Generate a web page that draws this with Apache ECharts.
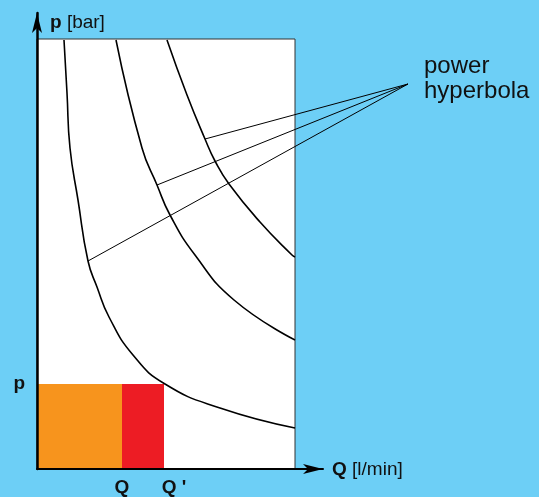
<!DOCTYPE html>
<html>
<head>
<meta charset="utf-8">
<script src="https://cdn.jsdelivr.net/npm/echarts@6/dist/echarts.min.js"></script>
<style>
  html, body { margin: 0; padding: 0; background: #6dcff6; }
  #chart { width: 539px; height: 497px; }
</style>
</head>
<body>
<div id="chart"></div>
<script>
// picture units: Q to the right, p upwards (1 unit ~ 1 px)
var curveLow = [[27, 429], [30, 376], [33, 321], [41, 269], [51, 208], [60, 182], [72, 152], [96, 114], [128, 85], [183, 61], [258, 41]];
var curveMid = [[79, 429], [105, 321], [120, 284], [133, 254], [158, 214], [197, 169], [258, 129]];
var curveHigh = [[130, 429], [150, 374], [168, 330], [178, 308], [192, 285], [223, 247], [255, 214], [258, 212]];

var plotBox = [[0, 0], [258, 430]];
var workQ = 85, workQ2 = 127, workP = 85;

var labelPoint = [371, 385];
var leaderTargets = [[168, 330], [120, 284], [51, 208]];

var xTicks = [workQ, workQ2];
var xTickNames = ['Q', "{s|Q '}"];
var yTicks = [workP];
var yTickNames = ['p'];

var font = "'Liberation Sans', Arial, sans-serif";

var chart = echarts.init(document.getElementById('chart'));

function curve(data) {
  return {
    type: 'line',
    data: data,
    smooth: 0.5,
    symbol: 'none',
    z: 3,
    lineStyle: { color: '#000', width: 1.6 }
  };
}

chart.setOption({
  backgroundColor: '#6dcff6',
  animation: false,
  title: [
    {
      text: '{b|p} [bar]',
      left: 50, top: 13, padding: 0,
      textStyle: {
        fontFamily: font, fontSize: 19, fontWeight: 'normal', color: '#111',
        rich: { b: { fontFamily: font, fontSize: 19, fontWeight: 'bold', color: '#111' } }
      }
    },
    {
      text: '{b|Q} [l/min]',
      left: 332, top: 460, padding: 0,
      textStyle: {
        fontFamily: font, fontSize: 19, fontWeight: 'normal', color: '#111',
        rich: { b: { fontFamily: font, fontSize: 19, fontWeight: 'bold', color: '#111' } }
      }
    },
    {
      text: 'power\nhyperbola',
      left: 424, top: 54, padding: 0,
      textStyle: { fontFamily: font, fontSize: 24, fontWeight: 'normal', color: '#111', lineHeight: 25 }
    }
  ],
  grid: { left: 37, top: 13, width: 286, height: 456, containLabel: false, outerBoundsMode: 'none' },
  xAxis: {
    type: 'value', min: 0, max: 286, z: 10,
    splitLine: { show: false },
    axisTick: { show: false },
    axisLine: { lineStyle: { color: '#000', width: 2 }, symbol: ['none', 'arrow'], symbolSize: [7.5, 20] },
    axisLabel: {
      customValues: xTicks, margin: 9,
      fontFamily: font, fontSize: 19, fontWeight: 'bold', color: '#111',
      rich: { s: { fontFamily: font, fontSize: 19, fontWeight: 'bold', color: '#111', padding: [0, 0, 0, 20] } },
      formatter: function (v) { return xTickNames[xTicks.indexOf(v)]; }
    }
  },
  yAxis: {
    type: 'value', min: 0, max: 456, z: 10,
    splitLine: { show: false },
    axisTick: { show: false },
    axisLine: { lineStyle: { color: '#000', width: 2.5 }, symbol: ['none', 'arrow'], symbolSize: [7.5, 20] },
    axisLabel: {
      customValues: yTicks, margin: 12,
      fontFamily: font, fontSize: 19, fontWeight: 'bold', color: '#111',
      formatter: function (v) { return yTickNames[yTicks.indexOf(v)]; }
    }
  },
  series: [
    {
      type: 'line', data: [], z: 1,
      markArea: {
        silent: true,
        itemStyle: { color: '#fff', borderColor: '#333', borderWidth: 1 },
        data: [[{ coord: plotBox[0] }, { coord: plotBox[1] }]]
      }
    },
    {
      type: 'line', data: [], z: 2,
      markArea: {
        silent: true,
        data: [
          [{ coord: [0, 0], itemStyle: { color: '#f7941d' } }, { coord: [workQ, workP] }],
          [{ coord: [workQ, 0], itemStyle: { color: '#ed1c24' } }, { coord: [workQ2, workP] }]
        ]
      }
    },
    curve(curveLow),
    curve(curveMid),
    curve(curveHigh),
    {
      type: 'lines',
      coordinateSystem: 'cartesian2d',
      clip: false,
      z: 4,
      lineStyle: { color: '#000', width: 1, opacity: 1 },
      data: leaderTargets.map(function (t) { return { coords: [labelPoint, t] }; })
    }
  ]
});
</script>
</body>
</html>
